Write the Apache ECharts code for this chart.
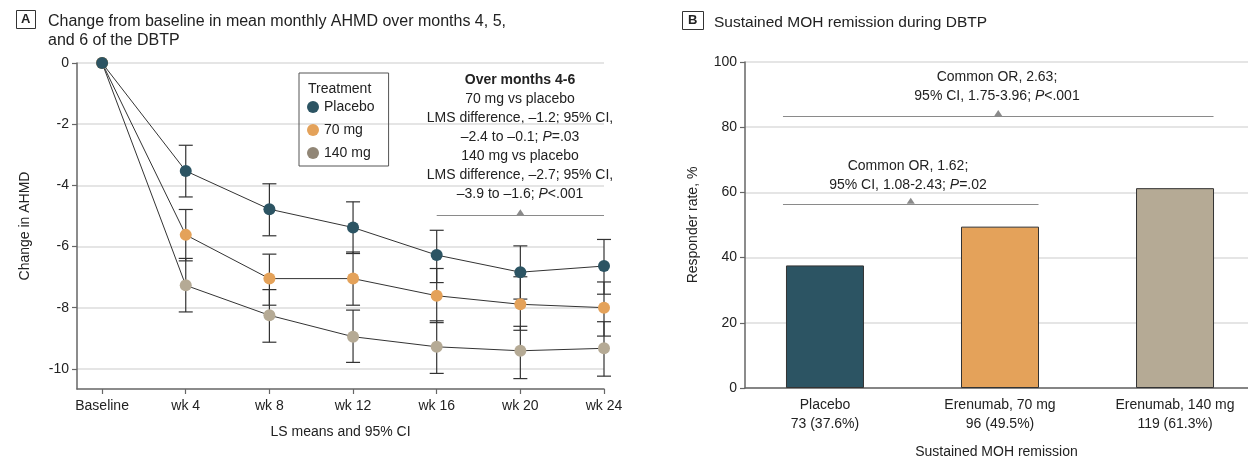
<!DOCTYPE html>
<html>
<head>
<meta charset="utf-8">
<script src="https://cdn.jsdelivr.net/npm/echarts@6/dist/echarts.min.js"></script>
<style>
  html, body { margin: 0; padding: 0; background: #fff; }
  #main { width: 1248px; height: 464px; }
</style>
</head>
<body>
<div id="main"></div>
<script>
// Panel A: change from baseline in AHMD (LS means, 95% CI)
var weeks = ['Baseline', 'wk 4', 'wk 8', 'wk 12', 'wk 16', 'wk 20', 'wk 24'];
var placeboMean = [0, -3.53, -4.78, -5.38, -6.28, -6.84, -6.64];
var placeboLow  = [null, -4.38, -5.65, -6.23, -7.18, -7.72, -7.56];
var placeboHigh = [null, -2.69, -3.95, -4.54, -5.47, -5.98, -5.77];
var mg70Mean = [0, -5.62, -7.05, -7.05, -7.61, -7.89, -8.00];
var mg70Low  = [null, -6.47, -7.92, -7.92, -8.49, -8.74, -8.93];
var mg70High = [null, -4.79, -6.25, -6.18, -6.72, -6.99, -7.16];
var mg140Mean = [0, -7.27, -8.25, -8.95, -9.28, -9.41, -9.33];
var mg140Low  = [null, -8.14, -9.13, -9.79, -10.15, -10.32, -10.24];
var mg140High = [null, -6.39, -7.41, -8.08, -8.43, -8.61, -8.46];
var yTicksA = [0, -2, -4, -6, -8, -10];

// Panel B: sustained MOH remission
var groups = ['Placebo', 'Erenumab, 70 mg', 'Erenumab, 140 mg'];
var counts = [73, 96, 119];
var rates = [37.6, 49.5, 61.3];

var FONT = '"Liberation Sans", Arial, sans-serif';
var TXT = '#222';
var AXIS = '#666';
var GRID = '#dddddd';
var colors = ['#2c5463', '#e4a25a', '#b5aa95'];

(function(){
	var myChart = echarts.init(document.getElementById('main'));

	function pts(arr) {
		return arr.map(function(v, i){ return [i, v]; });
	}
	function bars(low, high) {
		var out = [];
		for (var i = 0; i < low.length; i++) {
			if (low[i] !== null) out.push([i, low[i], high[i]]);
		}
		return out;
	}
	function renderErrorBar(params, api) {
		var x = api.value(0);
		var pLo = api.coord([x, api.value(1)]);
		var pHi = api.coord([x, api.value(2)]);
		var w = 7;
		var st = { stroke: '#333', lineWidth: 1.2 };
		return {
			type: 'group',
			children: [
				{ type: 'line', shape: { x1: pHi[0], y1: pHi[1], x2: pLo[0], y2: pLo[1] }, style: st },
				{ type: 'line', shape: { x1: pHi[0] - w, y1: pHi[1], x2: pHi[0] + w, y2: pHi[1] }, style: st },
				{ type: 'line', shape: { x1: pLo[0] - w, y1: pLo[1], x2: pLo[0] + w, y2: pLo[1] }, style: st }
			]
		};
	}
	function lineSeries(name, data, color, z) {
		return {
			name: name,
			type: 'line',
			xAxisIndex: 0,
			yAxisIndex: 0,
			data: pts(data),
			symbol: 'circle',
			symbolSize: 12,
			z: z,
			itemStyle: { color: color },
			lineStyle: { color: '#333', width: 1 },
			emphasis: { disabled: true }
		};
	}
	function errSeries(low, high, z) {
		return {
			type: 'custom',
			xAxisIndex: 0,
			yAxisIndex: 0,
			data: bars(low, high),
			renderItem: renderErrorBar,
			z: z,
			silent: true
		};
	}

	var annoA = '{b|Over months 4-6}\n70 mg vs placebo\nLMS difference, –1.2; 95% CI,\n–2.4 to –0.1; {i|P}=.03\n' +
		'140 mg vs placebo\nLMS difference, –2.7; 95% CI,\n–3.9 to –1.6; {i|P}<.001';
	var annoB1 = 'Common OR, 2.63;\n95% CI, 1.75-3.96; {i|P}<.001';
	var annoB2 = 'Common OR, 1.62;\n95% CI, 1.08-2.43; {i|P}=.02';
	var richStyle = {
		b: { fontFamily: FONT, fontSize: 14, fontWeight: 'bold', lineHeight: 19, fill: TXT },
		i: { fontFamily: FONT, fontSize: 14, fontStyle: 'italic', lineHeight: 19, fill: TXT }
	};
	function annoText(text, x, y) {
		return {
			type: 'text', x: x, y: y, silent: true,
			style: {
				text: text, align: 'center', fontFamily: FONT, fontSize: 14,
				lineHeight: 19, fill: TXT, rich: richStyle
			}
		};
	}
	function bracket(y, x1, x2) {
		return {
			silent: true,
			symbol: 'none',
			label: { show: false },
			lineStyle: { color: '#8a8a8a', width: 1.2, type: 'solid' },
			data: [[{ coord: [x1, y] }, { coord: [x2, y] }]]
		};
	}
	function arrow(y, x) {
		return {
			silent: true,
			symbol: 'triangle',
			symbolSize: [8, 6],
			symbolOffset: [0, -3],
			itemStyle: { color: '#8a8a8a' },
			label: { show: false },
			data: [{ coord: [x, y] }]
		};
	}

	var placeboLine = lineSeries('Placebo', placeboMean, colors[0], 12);
	placeboLine.markLine = bracket(-4.98, 4, 6);
	placeboLine.markPoint = arrow(-4.98, 5);

	var barData = rates.map(function(v, i){
		return { value: [i, v], itemStyle: { color: colors[i] } };
	});

	var option = {
		animation: false,
		textStyle: { fontFamily: FONT },
		title: [
			{ text: 'A', left: 16, top: 10, padding: [3, 5, 3, 5], borderColor: '#333', borderWidth: 1,
			  textStyle: { fontFamily: FONT, fontSize: 13, fontWeight: 'bold', color: TXT } },
			{ text: 'Change from baseline in mean monthly AHMD over months 4, 5,\nand 6 of the DBTP', left: 48, top: 12, padding: 0,
			  textStyle: { fontFamily: FONT, fontSize: 16, fontWeight: 'normal', color: TXT, lineHeight: 19 } },
			{ text: 'B', left: 682, top: 11, padding: [3, 6, 3, 6], borderColor: '#333', borderWidth: 1,
			  textStyle: { fontFamily: FONT, fontSize: 13, fontWeight: 'bold', color: TXT } },
			{ text: 'Sustained MOH remission during DBTP', left: 714, top: 13, padding: 0,
			  textStyle: { fontFamily: FONT, fontSize: 15.5, fontWeight: 'normal', color: TXT, lineHeight: 19 } },
			{ text: 'Treatment', left: 308, top: 82, padding: 0,
			  textStyle: { fontFamily: FONT, fontSize: 14, fontWeight: 'normal', color: TXT } }
		],
		legend: {
			data: [
				{ name: 'Placebo' },
				{ name: '70 mg' },
				{ name: '140 mg', itemStyle: { color: '#918676' } }
			],
			orient: 'vertical',
			left: 299,
			top: 73,
			padding: [27, 14, 6, 8],
			itemGap: 9,
			itemWidth: 12,
			itemHeight: 12,
			icon: 'circle',
			borderColor: '#555',
			borderWidth: 1,
			selectedMode: false,
			textStyle: { fontFamily: FONT, fontSize: 14, color: TXT, padding: [0, 0, 0, 0] }
		},
		grid: [
			{ left: 77, top: 63, width: 527, height: 326 },
			{ left: 745, top: 62, right: 0, height: 327 }
		],
		xAxis: [
			{
				gridIndex: 0, type: 'value', min: -0.3, max: 6,
				name: 'LS means and 95% CI', nameLocation: 'middle', nameGap: 36,
				nameTextStyle: { fontFamily: FONT, fontSize: 14, color: TXT },
				axisLine: { show: true, onZero: false, lineStyle: { color: AXIS, width: 1.5 } },
				axisTick: { show: true, length: 5, lineStyle: { color: AXIS, width: 1.2 }, customValues: [0, 1, 2, 3, 4, 5, 6] },
				axisLabel: { customValues: [0, 1, 2, 3, 4, 5, 6], margin: 10, fontFamily: FONT, fontSize: 14, color: TXT,
					formatter: function(v){ return weeks[Math.round(v)]; } },
				splitLine: { show: false }
			},
			{
				gridIndex: 1, type: 'value', min: -0.457, max: 2.417,
				name: 'Sustained MOH remission', nameLocation: 'middle', nameGap: 57,
				nameTextStyle: { fontFamily: FONT, fontSize: 14, color: TXT },
				axisLine: { show: true, onZero: false, lineStyle: { color: AXIS, width: 1.5 } },
				axisTick: { show: false, customValues: [0, 1, 2] },
				axisLabel: { customValues: [0, 1, 2], margin: 8, fontFamily: FONT, fontSize: 14, color: TXT, lineHeight: 19,
					formatter: function(v){ var i = Math.round(v); return groups[i] + '\n' + counts[i] + ' (' + rates[i] + '%)'; } },
				splitLine: { show: false }
			}
		],
		yAxis: [
			{
				gridIndex: 0, type: 'value', min: -10.66, max: 0,
				name: 'Change in AHMD', nameLocation: 'middle', nameGap: 45,
				nameTextStyle: { fontFamily: FONT, fontSize: 14, color: TXT },
				axisLine: { show: true, onZero: false, lineStyle: { color: AXIS, width: 1.5 } },
				axisTick: { show: true, length: 5, lineStyle: { color: AXIS, width: 1.2 }, customValues: yTicksA },
				axisLabel: { customValues: yTicksA, margin: 8, fontFamily: FONT, fontSize: 14, color: TXT },
				splitLine: { show: true, lineStyle: { color: GRID, width: 1.5 } }
			},
			{
				gridIndex: 1, type: 'value', min: 0, max: 100, interval: 20,
				name: 'Responder rate, %', nameLocation: 'middle', nameGap: 45,
				nameTextStyle: { fontFamily: FONT, fontSize: 14, color: TXT },
				axisLine: { show: true, onZero: false, lineStyle: { color: AXIS, width: 1.5 } },
				axisTick: { show: true, length: 5, lineStyle: { color: AXIS, width: 1.2 } },
				axisLabel: { margin: 8, fontFamily: FONT, fontSize: 14, color: TXT },
				splitLine: { show: true, lineStyle: { color: GRID, width: 1.5 } }
			}
		],
		series: [
			errSeries(mg140Low, mg140High, 5),
			errSeries(mg70Low, mg70High, 5),
			errSeries(placeboLow, placeboHigh, 5),
			lineSeries('140 mg', mg140Mean, colors[2], 10),
			lineSeries('70 mg', mg70Mean, colors[1], 11),
			placeboLine,
			{
				type: 'bar',
				xAxisIndex: 1,
				yAxisIndex: 1,
				barWidth: 78,
				data: barData,
				itemStyle: { borderColor: '#333', borderWidth: 1 },
				emphasis: { disabled: true },
				markLine: {
					silent: true, symbol: 'none', label: { show: false },
					lineStyle: { color: '#8a8a8a', width: 1.2, type: 'solid' },
					data: [
						[{ coord: [-0.24, 83.4] }, { coord: [2.22, 83.4] }],
						[{ coord: [-0.24, 56.5] }, { coord: [1.22, 56.5] }]
					]
				},
				markPoint: {
					silent: true, symbol: 'triangle', symbolSize: [8, 6], symbolOffset: [0, -3],
					itemStyle: { color: '#8a8a8a' }, label: { show: false },
					data: [{ coord: [0.99, 83.4] }, { coord: [0.49, 56.5] }]
				}
			}
		],
		graphic: [
			annoText(annoA, 520, 71),
			annoText(annoB1, 997, 68),
			annoText(annoB2, 908, 157)
		]
	};
	myChart.setOption(option);
})();
</script>
</body>
</html>
